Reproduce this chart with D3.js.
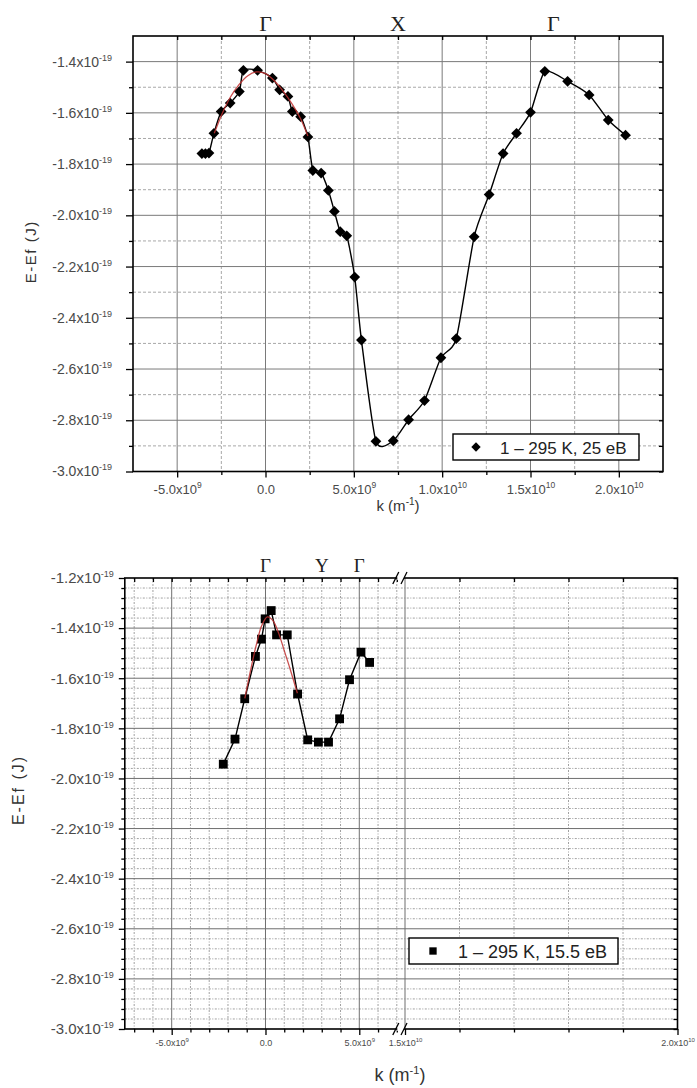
<!DOCTYPE html>
<html>
<head>
<meta charset="utf-8">
<script src="https://cdn.jsdelivr.net/npm/d3@7"></script>
<style>
  body { margin: 0; background: #fff; }
  svg { font-family: "Liberation Sans", Arial, sans-serif; }
</style>
</head>
<body>
<svg id="chart" width="697" height="1088"></svg>
<script>
// k in units of 1e9 m^-1, E-Ef in units of 1e-19 J

// top panel: 1 - 295 K, 25 eB
const topK = [-3.6, -3.4, -3.2, -2.92, -2.51, -2.0, -1.48, -1.25, -0.45, 0.39, 0.8, 1.27, 1.52, 1.99,
              2.4, 2.68, 3.15, 3.56, 3.9, 4.23, 4.6, 5.05, 5.43, 6.25, 7.23, 8.1, 9.0, 9.93, 10.8,
              11.81, 12.66, 13.45, 14.21, 15.0, 15.81, 17.1, 18.32, 19.4, 20.38];
const topE = [-1.759, -1.759, -1.757, -1.68, -1.595, -1.562, -1.517, -1.434, -1.434, -1.464, -1.51, -1.536, -1.595, -1.615,
              -1.694, -1.825, -1.835, -1.903, -1.985, -2.064, -2.08, -2.241, -2.487, -2.882, -2.88, -2.798, -2.723, -2.556, -2.481,
              -2.084, -1.919, -1.759, -1.68, -1.598, -1.438, -1.477, -1.53, -1.628, -1.687];
const topFitK = [-2.9, -2.5, -2.0, -1.5, -1.0, -0.5, 0.0, 0.5, 1.0, 1.5, 2.0, 2.4];
const topFitE = [-1.68, -1.61, -1.54, -1.49, -1.455, -1.44, -1.447, -1.475, -1.515, -1.565, -1.625, -1.69];
const topXTicks = [-5, 0, 5, 10, 15, 20];
const topXLabels = ["-5.0x10^9", "0.0", "5.0x10^9", "1.0x10^10", "1.5x10^10", "2.0x10^10"];
const topXMinor = [-2.5, 2.5, 7.5, 12.5, 17.5];
const topYTicks = [-3.0, -2.8, -2.6, -2.4, -2.2, -2.0, -1.8, -1.6, -1.4];
const topYLabels = ["-3.0x10^-19", "-2.8x10^-19", "-2.6x10^-19", "-2.4x10^-19", "-2.2x10^-19",
                    "-2.0x10^-19", "-1.8x10^-19", "-1.6x10^-19", "-1.4x10^-19"];
const topYMinor = [-2.9, -2.7, -2.5, -2.3, -2.1, -1.9, -1.7, -1.5];
const topSymK = [0, 7.5, 16.3];
const topSymLabels = ["Γ", "X", "Γ"];

// bottom panel: 1 - 295 K, 15.5 eB
const botK = [-2.25, -1.625, -1.107, -0.536, -0.214, -0.018, 0.304, 0.59, 1.16, 1.71, 2.25, 2.82, 3.36, 3.95, 4.48, 5.09, 5.55];
const botE = [-1.943, -1.843, -1.682, -1.513, -1.444, -1.363, -1.33, -1.427, -1.427, -1.663, -1.846, -1.855, -1.855, -1.762, -1.606, -1.496, -1.537];
const botFitK = [-1.1, -0.8, -0.5, -0.2, 0.1, 0.4, 0.7, 1.0, 1.3, 1.7];
const botFitE = [-1.68, -1.57, -1.47, -1.39, -1.355, -1.37, -1.42, -1.49, -1.56, -1.66];
const botXTicksA = [-5, 0, 5];
const botXLabelsA = ["-5.0x10^9", "0.0", "5.0x10^9"];
const botXTicksB = [15, 20];
const botXLabelsB = ["1.5x10^10", "2.0x10^10"];
const botXMinorA = [-7, -6, -4, -3, -2, -1, 1, 2, 3, 4, 6, 7];
const botXMinorB = [16, 17, 18, 19];
const botYTicks = [-3.0, -2.8, -2.6, -2.4, -2.2, -2.0, -1.8, -1.6, -1.4, -1.2];
const botYLabels = ["-3.0x10^-19", "-2.8x10^-19", "-2.6x10^-19", "-2.4x10^-19", "-2.2x10^-19",
                    "-2.0x10^-19", "-1.8x10^-19", "-1.6x10^-19", "-1.4x10^-19", "-1.2x10^-19"];
const botYMinor = d3.range(-2.96, -1.2, 0.04).filter(v => Math.abs(v * 5 - Math.round(v * 5)) > 0.01);
const botSymK = [0, 3, 5];
const botSymLabels = ["Γ", "Y", "Γ"];

const svg = d3.select("#chart");
const labelInk = "#4a4a4a";
const serif = "'Liberation Serif', 'Times New Roman', serif";

// write "base^exp" into a text node as base + raised tspan
function supText(t, str, supSize, rise) {
    const p = str.split("^");
    t.text(p[0]);
    if (p[1]) t.append("tspan").attr("font-size", supSize).attr("dy", -rise).text(p[1]);
}

function tickAxis(transform, axis, values, size, labels, fontSize, supSize, rise, pad) {
    const g = svg.append("g").attr("transform", transform)
        .call(axis.tickValues(values).tickSize(size).tickPadding(pad || 3)
            .tickFormat(labels ? (d, i) => labels[i] : ""));
    g.attr("font-family", null);
    g.select(".domain").remove();
    g.selectAll(".tick line").attr("stroke", "#000").attr("stroke-width", 1.3);
    if (labels) {
        g.selectAll(".tick text")
            .attr("font-size", fontSize)
            .attr("fill", labelInk)
            .each(function(d, i) { supText(d3.select(this), labels[i], supSize, rise); });
    } else {
        g.selectAll(".tick text").remove();
    }
    return g;
}

function vGrid(scale, values, y0, y1, color, dash) {
    svg.append("g").selectAll("line").data(values).join("line")
        .attr("x1", d => scale(d)).attr("x2", d => scale(d))
        .attr("y1", y0).attr("y2", y1)
        .attr("stroke", color).attr("stroke-width", 1)
        .attr("stroke-dasharray", dash);
}

function hGrid(scale, values, x0, x1, color, dash) {
    svg.append("g").selectAll("line").data(values).join("line")
        .attr("y1", d => scale(d)).attr("y2", d => scale(d))
        .attr("x1", x0).attr("x2", x1)
        .attr("stroke", color).attr("stroke-width", 1)
        .attr("stroke-dasharray", dash);
}

// ================= top panel =================
const T = {left: 133, right: 663, top: 36, bottom: 471.5};
const xT = d3.scaleLinear().domain([-7.5, 22.5]).range([T.left, T.right]);
const yT = d3.scaleLinear().domain([-3.0, -1.3]).range([T.bottom, T.top]);

vGrid(xT, topXMinor, T.top, T.bottom, "#a8a8a8", "3,2");
hGrid(yT, topYMinor, T.left, T.right, "#a8a8a8", "3,2");
vGrid(xT, topXTicks, T.top, T.bottom, "#7a7a7a", null);
hGrid(yT, topYTicks.slice(1), T.left, T.right, "#7a7a7a", null);

svg.append("rect")
    .attr("x", T.left).attr("y", T.top)
    .attr("width", T.right - T.left).attr("height", T.bottom - T.top)
    .attr("fill", "none").attr("stroke", "#000").attr("stroke-width", 1.6);

tickAxis(`translate(0,${T.bottom})`, d3.axisBottom(xT), topXTicks, 6, topXLabels, 13, 8.5, 5.5, 7);
tickAxis(`translate(0,${T.bottom})`, d3.axisBottom(xT), topXMinor, 3.5, null);
tickAxis(`translate(0,${T.top})`, d3.axisTop(xT), topXTicks.concat(topXMinor), -4, null);
tickAxis(`translate(${T.left},0)`, d3.axisLeft(yT), topYTicks, 7, topYLabels, 14, 9, 6, 14);
tickAxis(`translate(${T.left},0)`, d3.axisLeft(yT), topYMinor, 4, null);
tickAxis(`translate(${T.right},0)`, d3.axisRight(yT), topYTicks.concat(topYMinor), -4, null);

const topLine = d3.line()
    .x(d => xT(d[0])).y(d => yT(d[1]))
    .curve(d3.curveCardinal.tension(0.35));
svg.append("path")
    .datum(d3.zip(topK, topE))
    .attr("d", topLine)
    .attr("fill", "none").attr("stroke", "#000").attr("stroke-width", 1.4);

svg.append("g").selectAll("path").data(d3.zip(topK, topE)).join("path")
    .attr("transform", d => `translate(${xT(d[0])},${yT(d[1])}) rotate(45)`)
    .attr("d", d3.symbol(d3.symbolSquare, 58))
    .attr("fill", "#000");

svg.append("path")
    .datum(d3.zip(topFitK, topFitE))
    .attr("d", topLine)
    .attr("fill", "none").attr("stroke", "#c03030").attr("stroke-width", 1.3)
    .attr("stroke-opacity", 0.85);

svg.append("g").selectAll("text").data(topSymK).join("text")
    .attr("x", d => xT(d)).attr("y", 31)
    .attr("text-anchor", "middle")
    .style("font-family", serif)
    .attr("font-size", 22)
    .attr("fill", "#222")
    .text((d, i) => topSymLabels[i]);

// legend
svg.append("rect").attr("x", 453).attr("y", 434).attr("width", 186).attr("height", 26)
    .attr("fill", "#fff").attr("stroke", "#000").attr("stroke-width", 1.4);
svg.append("path").attr("transform", "translate(476,447) rotate(45)")
    .attr("d", d3.symbol(d3.symbolSquare, 44)).attr("fill", "#000");
svg.append("text").attr("x", 500).attr("y", 453.5)
    .attr("font-size", 17).attr("fill", "#222")
    .text("1 – 295 K, 25 eB");

// axis titles
const topXTitle = svg.append("text")
    .attr("x", (T.left + T.right) / 2).attr("y", 511)
    .attr("text-anchor", "middle").attr("font-size", 15).attr("fill", "#333");
topXTitle.append("tspan").text("k (m");
topXTitle.append("tspan").attr("font-size", 10).attr("dy", -6).text("-1");
topXTitle.append("tspan").attr("dy", 6).text(")");

svg.append("text")
    .attr("transform", `translate(36,${(T.top + T.bottom) / 2 - 2}) rotate(-90)`)
    .attr("text-anchor", "middle").attr("font-size", 15).attr("letter-spacing", 1.5)
    .attr("fill", "#333")
    .text("E-Ef (J)");

// ================= bottom panel =================
const B = {left: 124.8, right: 677.5, top: 578, bottom: 1029, breakA: 396.8, breakB: 405};
const xBa = d3.scaleLinear().domain([-7.5, 7.0]).range([B.left, B.breakA]);
const xBb = d3.scaleLinear().domain([15, 20]).range([B.breakB, B.right]);
const yB = d3.scaleLinear().domain([-3.0, -1.2]).range([B.bottom, B.top]);

vGrid(xBa, botXMinorA, B.top, B.bottom, "#a0a0a0", "2,1.5,1,1.5");
vGrid(xBb, botXMinorB, B.top, B.bottom, "#a0a0a0", "2,1.5,1,1.5");
hGrid(yB, botYMinor, B.left, B.right, "#a0a0a0", "2,1.5,1,1.5");
vGrid(xBa, botXTicksA, B.top, B.bottom, "#6f6f6f", null);
vGrid(xBb, [15], B.top, B.bottom, "#6f6f6f", null);
hGrid(yB, botYTicks.slice(1, -1), B.left, B.right, "#6f6f6f", null);

svg.append("rect")
    .attr("x", B.left).attr("y", B.top)
    .attr("width", B.right - B.left).attr("height", B.bottom - B.top)
    .attr("fill", "none").attr("stroke", "#000").attr("stroke-width", 1.6);

tickAxis(`translate(0,${B.bottom})`, d3.axisBottom(xBa), botXTicksA, 6, botXLabelsA, 9, 6, 4, 5);
tickAxis(`translate(0,${B.bottom})`, d3.axisBottom(xBb), botXTicksB, 6, botXLabelsB, 9, 6, 4, 5);
tickAxis(`translate(0,${B.bottom})`, d3.axisBottom(xBa), botXMinorA, 3.5, null);
tickAxis(`translate(0,${B.bottom})`, d3.axisBottom(xBb), botXMinorB, 3.5, null);
tickAxis(`translate(0,${B.top})`, d3.axisTop(xBa), botXTicksA.concat(botXMinorA), -4, null);
tickAxis(`translate(0,${B.top})`, d3.axisTop(xBb), botXMinorB, -4, null);
tickAxis(`translate(${B.left},0)`, d3.axisLeft(yB), botYTicks, 6, botYLabels, 15, 9, 6, 5);
tickAxis(`translate(${B.left},0)`, d3.axisLeft(yB), botYMinor, 3.5, null);
tickAxis(`translate(${B.right},0)`, d3.axisRight(yB), botYTicks.concat(botYMinor), -4, null);

// axis break marks
[B.top, B.bottom].forEach(yy => {
    svg.append("rect").attr("x", B.breakA + 0.5).attr("y", yy - 2).attr("width", B.breakB - B.breakA - 1.5).attr("height", 4)
        .attr("fill", "#fff");
    [B.breakA - 1, B.breakB - 1].forEach(xx => {
        svg.append("line")
            .attr("x1", xx - 3).attr("y1", yy + 6).attr("x2", xx + 3).attr("y2", yy - 6)
            .attr("stroke", "#000").attr("stroke-width", 1.3);
    });
});

const botLine = d3.line().x(d => xBa(d[0])).y(d => yB(d[1]));
svg.append("path")
    .datum(d3.zip(botK, botE))
    .attr("d", botLine)
    .attr("fill", "none").attr("stroke", "#000").attr("stroke-width", 1.4);

svg.append("g").selectAll("path").data(d3.zip(botK, botE)).join("path")
    .attr("transform", d => `translate(${xBa(d[0])},${yB(d[1])})`)
    .attr("d", d3.symbol(d3.symbolSquare, 78))
    .attr("fill", "#000");

svg.append("path")
    .datum(d3.zip(botFitK, botFitE))
    .attr("d", botLine.curve(d3.curveCatmullRom.alpha(0.5)))
    .attr("fill", "none").attr("stroke", "#c03030").attr("stroke-width", 1.3)
    .attr("stroke-opacity", 0.85);

svg.append("g").selectAll("text").data(botSymK).join("text")
    .attr("x", d => xBa(d)).attr("y", 572)
    .attr("text-anchor", "middle")
    .style("font-family", serif)
    .attr("font-size", 19)
    .attr("fill", "#222")
    .text((d, i) => botSymLabels[i]);

// legend
svg.append("rect").attr("x", 409).attr("y", 938).attr("width", 209).attr("height", 26)
    .attr("fill", "#fff").attr("stroke", "#000").attr("stroke-width", 1.4);
svg.append("path").attr("transform", "translate(433,951)")
    .attr("d", d3.symbol(d3.symbolSquare, 54)).attr("fill", "#000");
svg.append("text").attr("x", 458).attr("y", 957.5)
    .attr("font-size", 18).attr("fill", "#222")
    .text("1 – 295 K, 15.5 eB");

const botXTitle = svg.append("text")
    .attr("x", 400).attr("y", 1081)
    .attr("text-anchor", "middle").attr("font-size", 18).attr("fill", "#333");
botXTitle.append("tspan").text("k (m");
botXTitle.append("tspan").attr("font-size", 11).attr("dy", -7).text("-1");
botXTitle.append("tspan").attr("dy", 7).text(")");

svg.append("text")
    .attr("transform", "translate(24,790) rotate(-90)")
    .attr("text-anchor", "middle").attr("font-size", 16).attr("letter-spacing", 2)
    .attr("fill", "#333")
    .text("E-Ef (J)");
</script>
</body>
</html>
